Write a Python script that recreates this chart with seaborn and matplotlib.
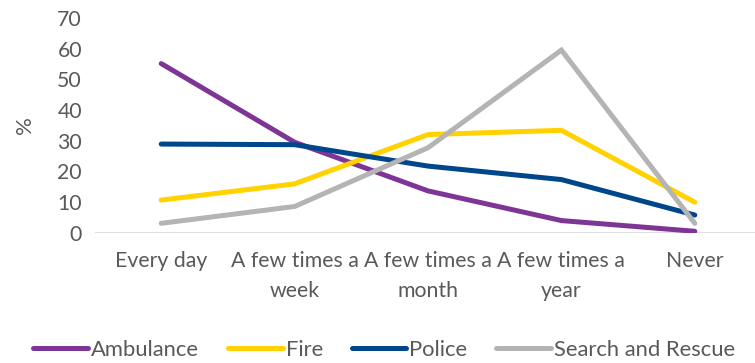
import matplotlib
matplotlib.use("Agg")
import matplotlib.pyplot as plt
import seaborn as sns
import pandas as pd

categories = ["Every day", "A few times a\nweek", "A few times a\nmonth", "A few times a\nyear", "Never"]
ambulance = [55.2, 29.5, 13.6, 3.9, 0.4]
fire = [10.6, 15.9, 32.0, 33.4, 9.9]
police = [28.9, 28.7, 21.7, 17.3, 5.7]
search_rescue = [3.0, 8.5, 27.7, 59.6, 3.0]

series = {
    "Ambulance": ambulance,
    "Fire": fire,
    "Police": police,
    "Search and Rescue": search_rescue,
}
palette = {
    "Ambulance": "#7F3596",
    "Fire": "#FFD200",
    "Police": "#00468B",
    "Search and Rescue": "#B4B4B4",
}

rows = []
for name, vals in series.items():
    for i, v in enumerate(vals):
        rows.append({"Frequency": i, "Service": name, "Percent": v})
df = pd.DataFrame(rows)

sns.set_theme(style="white")
plt.rcParams["font.family"] = ["Lato", "DejaVu Sans"]
text_color = "#595959"
tick_size = 15.3

fig = plt.figure(figsize=(7.55, 3.63), dpi=100)
ax = fig.add_axes([0.1252, 0.3595, 0.8834, 0.5901])

sns.lineplot(data=df, x="Frequency", y="Percent", hue="Service", palette=palette,
             linewidth=3.6, ax=ax, sort=False, legend=True)
for line in ax.lines:
    line.set_solid_capstyle("round")
    line.set_solid_joinstyle("miter")

ax.set_xlim(-0.5, 4.5)
ax.set_ylim(0, 70)
ax.set_yticks(range(0, 71, 10))
ax.set_xticks(range(len(categories)))
ax.set_xticklabels(categories, linespacing=1.65)
ax.axhline(0, color="#D9D9D9", linewidth=1.2, zorder=0)
for s in ax.spines.values():
    s.set_visible(False)
ax.tick_params(axis="both", length=0, labelsize=tick_size, colors=text_color)
ax.tick_params(axis="x", pad=13)
ax.tick_params(axis="y", pad=9)
ax.set_xlabel("")
ax.set_ylabel("%", fontsize=16, color=text_color, labelpad=16)

handles, labels = ax.get_legend_handles_labels()
ax.get_legend().remove()
leg = fig.legend(handles, labels, loc="center", bbox_to_anchor=(0.509, 0.036), ncol=4,
                 frameon=False, fontsize=15.8, handlelength=2.5, handletextpad=0.14,
                 columnspacing=1.3, borderpad=0.0)
for t in leg.get_texts():
    t.set_color(text_color)
for h in leg.get_lines():
    h.set_linewidth(3.6)
    h.set_solid_capstyle("round")

fig.savefig("out.png", dpi=100)
